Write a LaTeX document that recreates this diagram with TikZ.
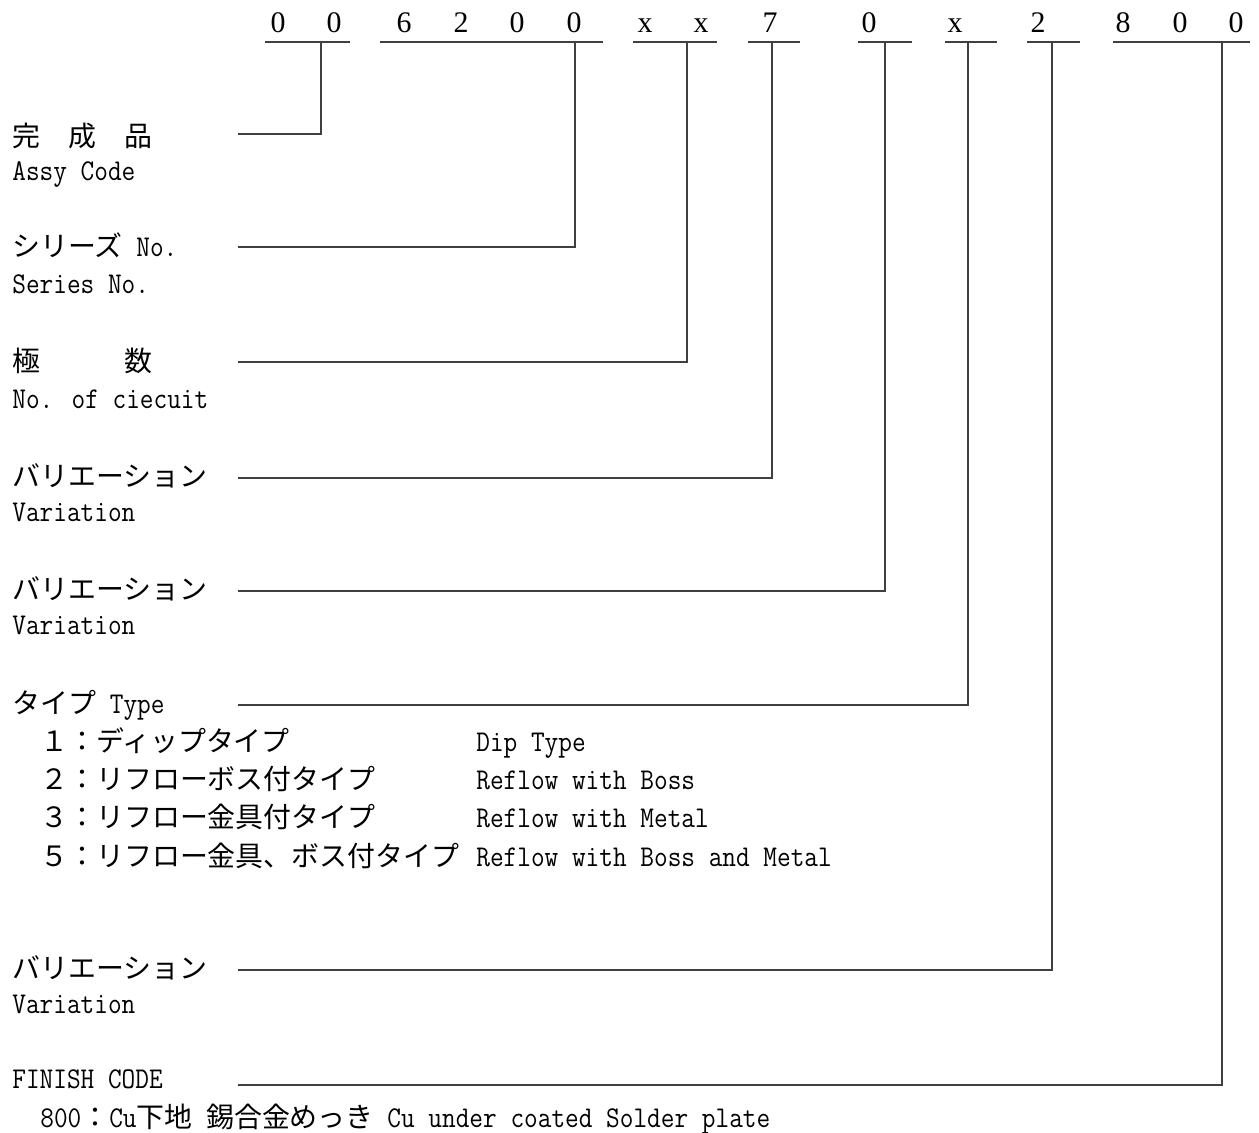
\documentclass[tikz,border=0pt]{standalone}
\usepackage{fontspec}
\setmainfont{Latin Modern Mono}[FakeStretch=0.88, Scale=1.08]
\newfontfamily\jp{Noto Sans CJK JP}
\newfontfamily\digitfont{Liberation Serif}
\usetikzlibrary{calc}

\begin{document}
\begin{tikzpicture}[x=0.02cm, y=-0.02cm,
    codeline/.style={draw=black!75, line width=0.6pt},
    digit/.style={anchor=base, inner sep=0pt, font=\digitfont\fontsize{17pt}{20pt}\selectfont},
    label/.style={anchor=base west, inner sep=0pt, font=\fontsize{15.9pt}{19pt}\selectfont}]
      \useasboundingbox (0,0) rectangle (1259,1133);

      % part number digits
      \foreach \d/\x [count=\i] in {0/278, 0/334, 6/404, 2/461, 0/517, 0/574, x/645, x/701,
                                    7/770, 0/869, x/955, 2/1038, 8/1123, 0/1180, 0/1236}
        \node[digit] (c\i) at (\x,32) {\d};

      % labels
      \node[label] (assyjp) at (12,146) {\jp 完　成　品};
      \node[label] (assy) at (12,180) {Assy Code};
      \node[label] (seriesjp) at (12,256) {{\jp シリーズ} No.};
      \node[label] (series) at (12,293) {Series No.};
      \node[label] (circjp) at (12,371) {\jp 極　　　数};
      \node[label] (circ) at (12,408) {No. of ciecuit};
      \node[label] (var1jp) at (12,486) {\jp バリエーション};
      \node[label] (var1) at (12,521) {Variation};
      \node[label] (var2jp) at (12,599) {\jp バリエーション};
      \node[label] (var2) at (12,634) {Variation};
      \node[label] (typejp) at (12,713) {{\jp タイプ} Type};
      \node[label] (t1jp) at (40,751) {\jp １：ディップタイプ};
      \node[label] (t2jp) at (40,789) {\jp ２：リフローボス付タイプ};
      \node[label] (t3jp) at (40,827) {\jp ３：リフロー金具付タイプ};
      \node[label] (t5jp) at (40,866) {\jp ５：リフロー金具、ボス付タイプ};
      \node[label] (t1) at (476,751) {Dip Type};
      \node[label] (t2) at (476,789) {Reflow with Boss};
      \node[label] (t3) at (476,827) {Reflow with Metal};
      \node[label] (t5) at (476,866) {Reflow with Boss and Metal};
      \node[label] (var3jp) at (12,978) {\jp バリエーション};
      \node[label] (var3) at (12,1013) {Variation};
      \node[label] (finish) at (12,1088) {FINISH CODE};
      \node[label] (plate) at (40,1127) {800{\jp ：}Cu{\jp 下地} {\jp 錫合金めっき} Cu under coated Solder plate};

      % underlines and leaders
      \foreach \a/\b/\v/\y [count=\n] in {265/350/321/134, 380/603/575/247, 633/717/687/362,
                                          748/800/772/478, 858/912/885/591, 945/997/968/705,
                                          1027/1080/1052/970, 1113/1250/1222/1085} {
        \coordinate (ul\n) at (\a,42);
        \coordinate (ur\n) at (\b,42);
        \coordinate (top\n) at (\v,42);
        \coordinate (lead\n) at (238,\y);
        \draw[codeline] (ul\n) -- (ur\n);
        \draw[codeline] (lead\n) -| (top\n);
      }
\end{tikzpicture}
\end{document}
